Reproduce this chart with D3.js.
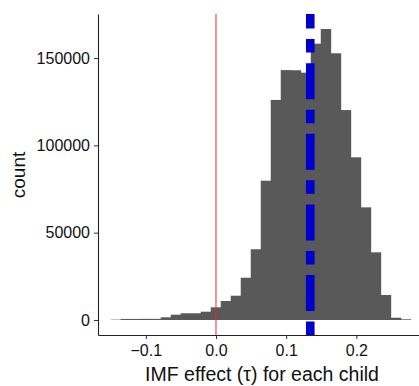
<!DOCTYPE html>
<html>
<head>
<meta charset="utf-8">
<script src="https://cdn.jsdelivr.net/npm/d3@7"></script>
<style>
body { margin: 0; background: #fff; }
svg text { font-family: "Liberation Sans", Arial, sans-serif; }
</style>
</head>
<body>
<div id="chart"></div>
<script>
// Histogram of the per-child IMF effect (30 bins)
const binStart = -0.15;
const binWidth = 0.01425;
const counts = [
    200, 600, 600, 650, 650, 1550, 3030, 3840, 3840, 4750,
    7270, 10880, 13900, 24200, 40500, 79750, 126000, 143100, 143000, 141600,
    158200, 166600, 152700, 120200, 93150, 64500, 38750, 14300, 1300, 400
];
const xTicks = [-0.1, 0.0, 0.1, 0.2];
const yTicks = [0, 50000, 100000, 150000];
const zeroEffect = 0;
const meanEffect = 0.1343;
const xDomain = [-0.1681, 0.2892];
const yDomain = [-8590, 175200];
const xTitle = "IMF effect (\u03c4) for each child";
const yTitle = "count";

const width = 419, height = 386;
const margin = { top: 14, right: 0, bottom: 51, left: 98 };
const innerW = width - margin.left - margin.right;
const innerH = height - margin.top - margin.bottom;

const svg = d3.select('#chart').append('svg')
    .attr('width', width)
    .attr('height', height);

const g = svg.append('g')
    .attr('transform', `translate(${margin.left},${margin.top})`);

const x = d3.scaleLinear().domain(xDomain).range([0, innerW]);
const y = d3.scaleLinear().domain(yDomain).range([innerH, 0]);

// bars
const bins = counts.map((c, i) => ({ x0: binStart + i * binWidth, x1: binStart + (i + 1) * binWidth, count: c }));

g.append('g').selectAll('rect')
    .data(bins)
    .enter().append('rect')
    .attr('x', d => x(d.x0))
    .attr('width', d => x(d.x1) - x(d.x0) + 0.4)   // small overlap so no seams show
    .attr('y', d => y(d.count))
    .attr('height', d => y(0) - y(d.count))
    .attr('fill', '#595959');

// reference line at zero
g.append('line')
    .attr('x1', x(zeroEffect)).attr('x2', x(zeroEffect))
    .attr('y1', 0).attr('y2', innerH)
    .attr('stroke', '#ff2020')
    .attr('stroke-width', 1);

// mean effect, dot-dash, drawn bottom to top so the pattern starts at the axis
g.append('line')
    .attr('x1', x(meanEffect)).attr('x2', x(meanEffect))
    .attr('y1', innerH).attr('y2', 0)
    .attr('stroke', '#0000cc')
    .attr('stroke-width', 8.6)
    .attr('stroke-dasharray', '13.5,10.5,36,10.6');

// axes
const yAxis = g.append('g')
    .call(d3.axisLeft(y).tickValues(yTicks).tickSize(4).tickSizeOuter(0).tickPadding(4)
        .tickFormat(d3.format('d')));

const xAxis = g.append('g')
    .attr('transform', `translate(0,${innerH})`)
    .call(d3.axisBottom(x).tickValues(xTicks).tickSize(4).tickSizeOuter(0).tickPadding(6)
        .tickFormat(d3.format('.1f')));

[yAxis, xAxis].forEach(a => {
    a.select('.domain').attr('stroke', '#222').attr('stroke-width', 1.1);
    a.selectAll('.tick line').attr('stroke', '#333');
    a.selectAll('.tick text')
        .attr('fill', '#111')
        .style('font-size', '16px')
        .style('font-family', '"Liberation Sans", Arial, sans-serif');
});

// titles
svg.append('text')
    .attr('x', 262)
    .attr('y', 381)
    .attr('text-anchor', 'middle')
    .attr('fill', '#111')
    .style('font-size', '19.5px')
    .text(xTitle);

svg.append('text')
    .attr('transform', 'translate(25,175) rotate(-90)')
    .attr('text-anchor', 'middle')
    .attr('fill', '#111')
    .style('font-size', '19px')
    .text(yTitle);
</script>
</body>
</html>
